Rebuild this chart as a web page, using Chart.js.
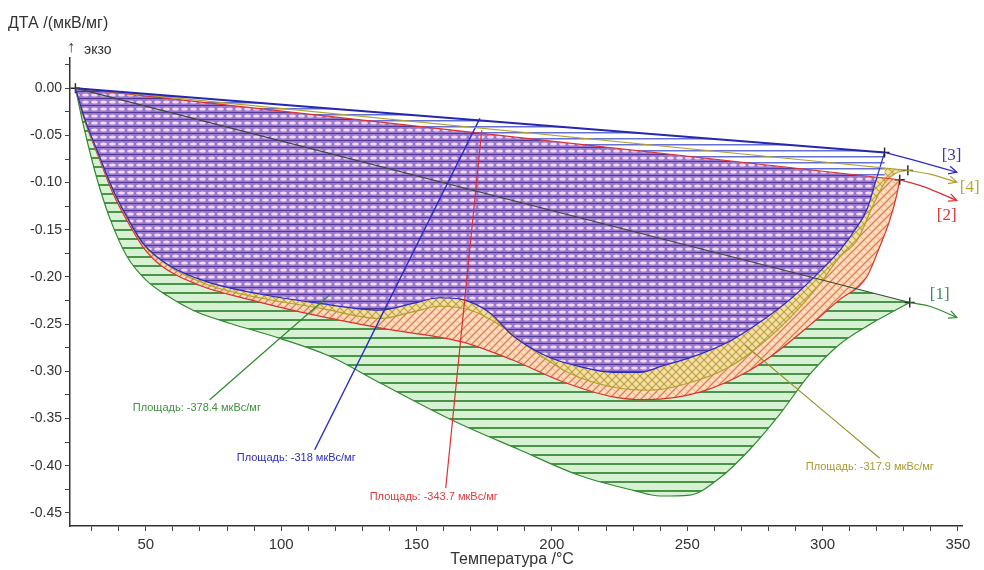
<!DOCTYPE html>
<html lang="ru">
<head>
<meta charset="UTF-8">
<title>ДТА</title>
<script src="https://cdn.jsdelivr.net/npm/chart.js@4.4.4/dist/chart.umd.min.js"></script>
<style>
  html, body { margin: 0; padding: 0; background: #fff; }
</style>
</head>
<body>
<canvas id="dta" width="984" height="570"></canvas>
<script>
  // [1] – температура, °C / сигнал ДТА, мкВ/мг
  const temp1 = [24, 27, 30, 33, 37, 43, 50, 58, 68, 81, 99.5, 118, 136.4, 163.4, 188, 210, 230, 240, 251, 262, 273, 284, 295, 306, 317, 327, 332.2];
  const dta1  = [0, -0.04, -0.075, -0.106, -0.14, -0.178, -0.203, -0.22, -0.236, -0.249, -0.265, -0.284, -0.312, -0.352, -0.383, -0.41, -0.426, -0.432, -0.431, -0.413, -0.383, -0.346, -0.304, -0.272, -0.251, -0.235, -0.227];
  // [2]
  const temp2 = [24, 27.4, 33, 37.8, 43, 48.9, 55.2, 70, 88.4, 106.9, 136.4, 167.1, 185.5, 204, 222.5, 235, 254.6, 273, 284.2, 295.3, 306.3, 316.3, 321.1, 324.8, 327.4, 328.5];
  const dta2  = [0, -0.034, -0.076, -0.111, -0.14, -0.168, -0.187, -0.209, -0.224, -0.237, -0.254, -0.269, -0.288, -0.311, -0.327, -0.33, -0.322, -0.299, -0.277, -0.251, -0.224, -0.2, -0.168, -0.14, -0.113, -0.097];
  // [3]
  const temp3 = [24, 27.4, 33, 37.8, 43, 48.9, 58.8, 73.6, 92, 114.3, 136.4, 148.6, 158.6, 167.1, 177.1, 185.5, 198.1, 210.3, 222.5, 232.5, 241, 253.5, 265.7, 276.8, 287.9, 298, 306.3, 312, 316.3, 320, 322.9];
  const dta3  = [0, -0.032, -0.073, -0.107, -0.136, -0.164, -0.188, -0.206, -0.218, -0.228, -0.235, -0.228, -0.222, -0.224, -0.238, -0.262, -0.284, -0.295, -0.301, -0.301, -0.294, -0.283, -0.268, -0.248, -0.224, -0.197, -0.172, -0.15, -0.129, -0.095, -0.068];
  // [4]
  const temp4 = [24, 27.4, 33, 37.8, 43, 48.9, 58.8, 73.6, 92, 114.3, 136.4, 148.6, 158.6, 169.7, 180.8, 191.8, 206.6, 221.4, 236.2, 250.9, 265.7, 277, 288, 298, 306, 313, 318.5, 323, 327, 331.5];
  const dta4  = [0, -0.033, -0.074, -0.108, -0.137, -0.165, -0.189, -0.209, -0.222, -0.233, -0.244, -0.237, -0.231, -0.235, -0.251, -0.275, -0.302, -0.316, -0.32, -0.312, -0.295, -0.272, -0.243, -0.211, -0.18, -0.16, -0.125, -0.1, -0.09, -0.087];

  // продолжение кривых после конечной точки интегрирования
  const tailTemp1 = [332.2, 339.6, 349.6];  const tailDta1 = [-0.227, -0.231, -0.243];
  const tailTemp2 = [328.5, 337, 349.6];    const tailDta2 = [-0.097, -0.104, -0.119];
  const tailTemp3 = [322.9, 333.4, 349.6];  const tailDta3 = [-0.068, -0.076, -0.089];
  const tailTemp4 = [331.5, 339.6, 349.6];  const tailDta4 = [-0.087, -0.091, -0.0995];

  // базовые линии пиков (начало и конец интегрирования)
  const baseTemp1 = [24, 332.2];  const baseDta1 = [0, -0.227];
  const baseTemp2 = [24, 328.5];  const baseDta2 = [0, -0.097];
  const baseTemp3 = [24, 322.9];  const baseDta3 = [0, -0.068];
  const baseTemp4 = [24, 331.5];  const baseDta4 = [0, -0.087];

  // выноски к подписям площадей
  const leadTemp1 = [73.6, 117.9];   const leadDta1 = [-0.33, -0.219];
  const leadTemp2 = [160.8, 174.1];  const leadDta2 = [-0.4235, -0.0445];
  const leadTemp3 = [112.4, 173.4];  const leadDta3 = [-0.383, -0.032];
  const leadTemp4 = [271.3, 321.1];  const leadDta4 = [-0.272, -0.392];

  // деления осей
  const tempTicks = [30, 40, 50, 60, 70, 80, 90, 100, 110, 120, 130, 140, 150, 160, 170, 180, 190, 200,
                     210, 220, 230, 240, 250, 260, 270, 280, 290, 300, 310, 320, 330, 340, 350];
  const dtaTicks = [0.025, 0, -0.025, -0.05, -0.075, -0.1, -0.125, -0.15, -0.175, -0.2, -0.225, -0.25,
                    -0.275, -0.3, -0.325, -0.35, -0.375, -0.4, -0.425, -0.45];

  const areaText = ['Площадь: -378.4 мкВс/мг', 'Площадь: -343.7 мкВс/мг', 'Площадь: -318 мкВс/мг', 'Площадь: -317.9 мкВс/мг'];
  const curveTags = ['[1]', '[2]', '[3]', '[4]'];

  const FONT = "'Liberation Sans', Arial, sans-serif";
  const GREEN = '#2f8a2f', RED = '#dc3030', BLUE = '#2a2ac8', OLIVE = '#b0a030';

  function makePattern(w, h, draw) {
    const c = document.createElement('canvas');
    c.width = w; c.height = h;
    const g = c.getContext('2d');
    draw(g, w, h);
    return g.createPattern(c, 'repeat');
  }

  function diag(g, w, h, color, width, back) {
    g.strokeStyle = color; g.lineWidth = width;
    g.beginPath();
    if (back) {
      g.moveTo(-1, -1); g.lineTo(w + 1, h + 1);
      g.moveTo(w - 1, -1); g.lineTo(w + 1, 1);
      g.moveTo(-1, h - 1); g.lineTo(1, h + 1);
    } else {
      g.moveTo(-1, h + 1); g.lineTo(w + 1, -1);
      g.moveTo(-1, 1); g.lineTo(1, -1);
      g.moveTo(w - 1, h + 1); g.lineTo(w + 1, h - 1);
    }
    g.stroke();
  }

  const hatchGreen = makePattern(8, 9, (g, w, h) => {
    g.fillStyle = '#d6f2d3'; g.fillRect(0, 0, w, h);
    g.fillStyle = '#4a944a'; g.fillRect(0, 4, w, 2);
  });
  const hatchRed = makePattern(8, 8, (g, w, h) => {
    g.fillStyle = '#fbdcc3'; g.fillRect(0, 0, w, h);
    diag(g, w, h, '#d9804e', 1.3, false);
    diag(g, w, h, '#eaa878', 0.8, true);
  });
  const hatchOlive = makePattern(8, 8, (g, w, h) => {
    g.fillStyle = '#eee2a2'; g.fillRect(0, 0, w, h);
    diag(g, w, h, '#c79a45', 1.1, false);
    diag(g, w, h, '#c79a45', 1.1, true);
  });
  const hatchBlue = makePattern(9, 7, (g, w, h) => {
    g.fillStyle = '#9779cf'; g.fillRect(0, 0, w, h);
    g.fillStyle = '#523894'; g.fillRect(0, 0, w, 1);
    g.fillStyle = '#f6d6f2';
    g.beginPath(); g.ellipse(4.5, 4, 3.3, 1.5, 0, 0, Math.PI * 2); g.fill();
  });
  const hatchStrip = makePattern(8, 6, (g, w, h) => {
    g.fillStyle = '#ffffff'; g.fillRect(0, 0, w, h);
    g.fillStyle = '#6470d4'; g.fillRect(0, 0, w, 1.5);
  });

  const pts = (xs, ys) => xs.map((t, i) => ({x: t, y: ys[i]}));
  const endCross = ctx => (ctx.dataIndex === ctx.dataset.data.length - 1 ? 5 : 0);

  function curve(xs, ys, color, hatch, target, order, extra) {
    return Object.assign({
      data: pts(xs, ys), borderColor: color, borderWidth: 1.2, backgroundColor: hatch,
      fill: {target: target}, order: order, cubicInterpolationMode: 'monotone',
      pointStyle: 'cross', pointRadius: endCross, pointBorderColor: '#222', pointBorderWidth: 1.4
    }, extra || {});
  }
  function line(xs, ys, color, width, extra) {
    return Object.assign({
      data: pts(xs, ys), borderColor: color, borderWidth: width, fill: false,
      pointRadius: 0, order: 0, cubicInterpolationMode: 'monotone'
    }, extra || {});
  }

  const datasets = [
    // 0..3 кривые с заливкой до своей базовой линии (4..7)
    curve(temp1, dta1, GREEN, hatchGreen, 4, 5, {
      pointRadius: ctx => (ctx.dataIndex === 0 || ctx.dataIndex === ctx.dataset.data.length - 1 ? 5 : 0)
    }),
    curve(temp2, dta2, RED, hatchRed, 5, 4),
    curve(temp3, dta3, BLUE, hatchBlue, 6, 2),
    curve(temp4, dta4, OLIVE, hatchOlive, 7, 3),
    // 4..7 базовые линии
    line(baseTemp1, baseDta1, '#3c4a3c', 1.2),
    line(baseTemp2, baseDta2, RED, 1.2, {fill: {target: 6}, backgroundColor: hatchStrip, order: 1}),
    line(baseTemp3, baseDta3, '#2626b0', 2),
    line(baseTemp4, baseDta4, OLIVE, 1.2),
    // 8..11 хвосты кривых
    line(tailTemp1, tailDta1, GREEN, 1.2),
    line(tailTemp2, tailDta2, RED, 1.2),
    line(tailTemp3, tailDta3, BLUE, 1.2),
    line(tailTemp4, tailDta4, OLIVE, 1.2),
    // 12..15 выноски
    line(leadTemp1, leadDta1, GREEN, 1.2),
    line(leadTemp2, leadDta2, RED, 1.2),
    line(leadTemp3, leadDta3, BLUE, 1.4),
    line(leadTemp4, leadDta4, '#9c9032', 1.2)
  ];

  // подписи площадей и номера кривых
  const notes = [
    {text: areaText[0], t: 45.2, v: -0.339, color: '#3f8f3f'},
    {text: areaText[1], t: 132.7, v: -0.433, color: '#e03a3a'},
    {text: areaText[2], t: 83.6, v: -0.392, color: '#2c2cc0'},
    {text: areaText[3], t: 293.8, v: -0.401, color: '#a89a30'}
  ];
  const tags = [
    {text: curveTags[0], t: 339.6, v: -0.219, color: '#3f8f5f'},
    {text: curveTags[1], t: 342.2, v: -0.1345, color: '#d83838'},
    {text: curveTags[2], t: 344, v: -0.071, color: '#3a3aa8'},
    {text: curveTags[3], t: 350.7, v: -0.105, color: '#b8a830'}
  ];

  const decor = {
    id: 'decor',
    afterDatasetsDraw(chart) {
      const {ctx, scales: {x, y}} = chart;
      ctx.save();
      // стрелки на хвостах
      for (let i = 8; i <= 11; i++) {
        const d = chart.data.datasets[i].data;
        const p = d[d.length - 1], q = d[d.length - 2];
        const px = x.getPixelForValue(p.x), py = y.getPixelForValue(p.y);
        const a = Math.atan2(py - y.getPixelForValue(q.y), px - x.getPixelForValue(q.x));
        ctx.strokeStyle = chart.data.datasets[i].borderColor;
        ctx.lineWidth = 1.2;
        ctx.beginPath();
        ctx.moveTo(px - 9 * Math.cos(a - 0.45), py - 9 * Math.sin(a - 0.45));
        ctx.lineTo(px, py);
        ctx.lineTo(px - 9 * Math.cos(a + 0.45), py - 9 * Math.sin(a + 0.45));
        ctx.stroke();
      }
      ctx.textBaseline = 'middle';
      ctx.textAlign = 'left';
      ctx.font = '11px ' + FONT;
      notes.forEach(n => {
        ctx.fillStyle = n.color;
        ctx.fillText(n.text, x.getPixelForValue(n.t), y.getPixelForValue(n.v));
      });
      ctx.font = "17px 'Liberation Serif', 'Times New Roman', serif";
      tags.forEach(n => {
        ctx.fillStyle = n.color;
        ctx.fillText(n.text, x.getPixelForValue(n.t), y.getPixelForValue(n.v));
      });
      ctx.restore();
    },
    afterDraw(chart) {
      const {ctx, chartArea} = chart;
      ctx.save();
      ctx.fillStyle = '#333';
      ctx.textBaseline = 'middle';
      ctx.font = '16px ' + FONT;
      ctx.fillText('ДТА /(мкВ/мг)', 8, 24);
      ctx.font = '16px ' + FONT;
      ctx.fillText('↑', chartArea.left - 3, 48);
      ctx.font = '14px ' + FONT;
      ctx.fillText('экзо', chartArea.left + 14, 50);
      ctx.font = '16px ' + FONT;
      ctx.textAlign = 'center';
      ctx.fillText('Температура /°C', 512, 560);
      ctx.restore();
    }
  };

  const tickObjs = vals => vals.map(v => ({value: v}));
  const onStep = (v, step) => Math.abs(v / step - Math.round(v / step)) < 1e-6;

  new Chart(document.getElementById('dta'), {
    type: 'line',
    data: {datasets},
    plugins: [decor],
    options: {
      responsive: false,
      animation: false,
      parsing: false,
      layout: {padding: {top: 58, right: 22, left: 0, bottom: 0}},
      plugins: {
        legend: {display: false},
        tooltip: {enabled: false},
        filler: {drawTime: 'beforeDatasetsDraw'}
      },
      scales: {
        x: {
          type: 'linear', min: 22, max: 351.5,
          afterFit: s => { s.height = 44; },
          afterBuildTicks: s => { s.ticks = tickObjs(tempTicks); },
          grid: {drawOnChartArea: false, tickLength: 5, color: '#444'},
          border: {color: '#333', width: 1.5},
          ticks: {
            autoSkip: false, maxRotation: 0, padding: 5, color: '#333',
            font: {family: FONT, size: 15},
            callback: v => (onStep(v, 50) ? Math.round(v) : '')
          }
        },
        y: {
          type: 'linear', min: -0.4638, max: 0.032,
          afterFit: s => { s.width = 70; },
          afterBuildTicks: s => { s.ticks = tickObjs(dtaTicks); },
          grid: {drawOnChartArea: false, tickLength: 5, color: '#444'},
          border: {color: '#333', width: 1.5},
          ticks: {
            autoSkip: false, padding: 3, color: '#333',
            font: {family: FONT, size: 14},
            callback: v => (onStep(v, 0.05) ? (Math.abs(v) < 1e-9 ? '0.00' : v.toFixed(2)) : '')
          }
        }
      }
    }
  });
</script>
</body>
</html>
